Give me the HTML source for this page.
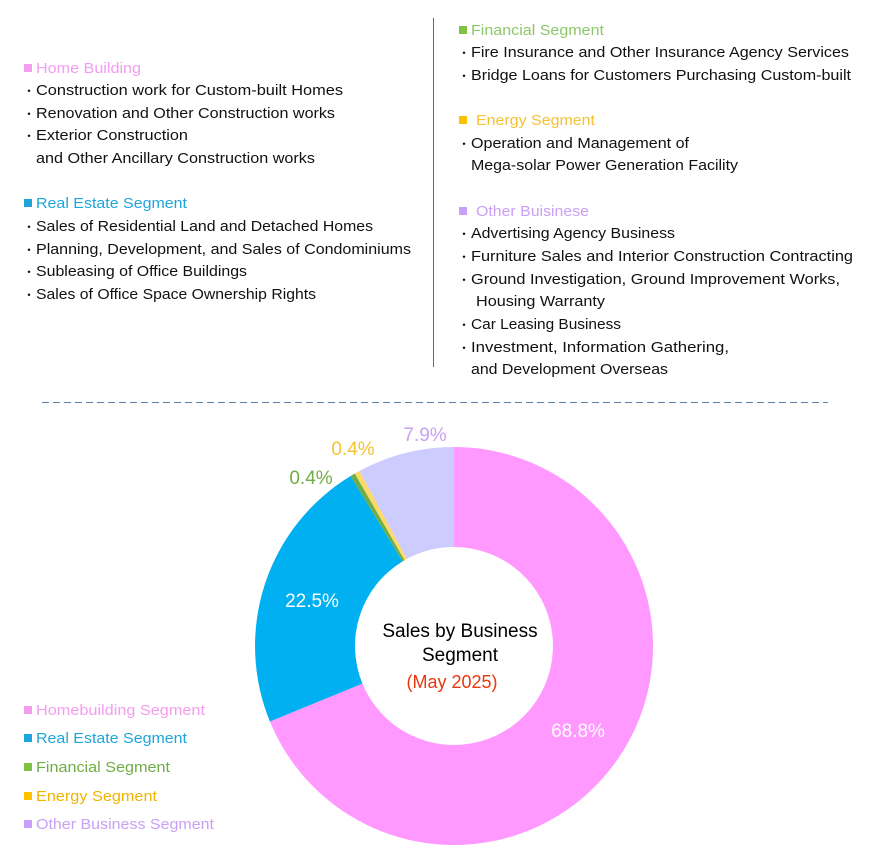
<!DOCTYPE html>
<html><head><meta charset="utf-8"><style>
html,body{margin:0;padding:0;background:#fff;}
svg{display:block;}
text{font-family:"Liberation Sans","Noto Sans CJK JP",sans-serif;font-size:15px;fill:#111;}
.b{font-size:12px;}
</style></head><body>
<svg width="869" height="866" viewBox="0 0 869 866" xmlns="http://www.w3.org/2000/svg">
<!-- left column -->
<rect x="24" y="64" width="8" height="8" fill="#F49CF0"/>
<text x="36" y="73" fill="#F49CF0" style="fill:#F49CF0" textLength="105" lengthAdjust="spacingAndGlyphs">Home Building</text>
<text class="b" x="23" y="95">・</text><text x="36" y="95" textLength="307" lengthAdjust="spacingAndGlyphs">Construction work for Custom-built Homes</text>
<text class="b" x="23" y="118">・</text><text x="36" y="118" textLength="299" lengthAdjust="spacingAndGlyphs">Renovation and Other Construction works</text>
<text class="b" x="23" y="140">・</text><text x="36" y="140" textLength="152" lengthAdjust="spacingAndGlyphs">Exterior Construction</text>
<text x="36" y="163" textLength="279" lengthAdjust="spacingAndGlyphs">and Other Ancillary Construction works</text>

<rect x="24" y="199" width="8" height="8" fill="#1EA6DC"/>
<text x="36" y="208" style="fill:#1EA6DC" textLength="151" lengthAdjust="spacingAndGlyphs">Real Estate Segment</text>
<text class="b" x="23" y="231">・</text><text x="36" y="231" textLength="337" lengthAdjust="spacingAndGlyphs">Sales of Residential Land and Detached Homes</text>
<text class="b" x="23" y="254">・</text><text x="36" y="254" textLength="375" lengthAdjust="spacingAndGlyphs">Planning, Development, and Sales of Condominiums</text>
<text class="b" x="23" y="276">・</text><text x="36" y="276" textLength="211" lengthAdjust="spacingAndGlyphs">Subleasing of Office Buildings</text>
<text class="b" x="23" y="299">・</text><text x="36" y="299" textLength="280" lengthAdjust="spacingAndGlyphs">Sales of Office Space Ownership Rights</text>

<line x1="433.5" y1="18" x2="433.5" y2="367" stroke="#41719C" stroke-width="1"/>

<!-- right column -->
<rect x="459" y="26" width="8" height="8" fill="#7FC241"/>
<text x="471" y="35" style="fill:#8CC96A" textLength="133" lengthAdjust="spacingAndGlyphs">Financial Segment</text>
<text class="b" x="458" y="57">・</text><text x="471" y="57" textLength="378" lengthAdjust="spacingAndGlyphs">Fire Insurance and Other Insurance Agency Services</text>
<text class="b" x="458" y="80">・</text><text x="471" y="80" textLength="380" lengthAdjust="spacingAndGlyphs">Bridge Loans for Customers Purchasing Custom-built</text>

<rect x="459" y="116" width="8" height="8" fill="#FFC000"/>
<text x="476" y="125" style="fill:#F5C232" textLength="119" lengthAdjust="spacingAndGlyphs">Energy Segment</text>
<text class="b" x="458" y="148">・</text><text x="471" y="148" textLength="218" lengthAdjust="spacingAndGlyphs">Operation and Management of</text>
<text x="471" y="170" textLength="267" lengthAdjust="spacingAndGlyphs">Mega-solar Power Generation Facility</text>

<rect x="459" y="207" width="8" height="8" fill="#C9A0F5"/>
<text x="476" y="216" style="fill:#C9A0F5" textLength="113" lengthAdjust="spacingAndGlyphs">Other Buisinese</text>
<text class="b" x="458" y="238">・</text><text x="471" y="238" textLength="204" lengthAdjust="spacingAndGlyphs">Advertising Agency Business</text>
<text class="b" x="458" y="261">・</text><text x="471" y="261" textLength="382" lengthAdjust="spacingAndGlyphs">Furniture Sales and Interior Construction Contracting</text>
<text class="b" x="458" y="284">・</text><text x="471" y="284" textLength="369" lengthAdjust="spacingAndGlyphs">Ground Investigation, Ground Improvement Works,</text>
<text x="476" y="306" textLength="129" lengthAdjust="spacingAndGlyphs">Housing Warranty</text>
<text class="b" x="458" y="329">・</text><text x="471" y="329" textLength="150" lengthAdjust="spacingAndGlyphs">Car Leasing Business</text>
<text class="b" x="458" y="352">・</text><text x="471" y="352" textLength="258" lengthAdjust="spacingAndGlyphs">Investment, Information Gathering,</text>
<text x="471" y="374" textLength="197" lengthAdjust="spacingAndGlyphs">and Development Overseas</text>

<line x1="42" y1="402.5" x2="828" y2="402.5" stroke="#5B7FA6" stroke-width="1" stroke-dasharray="7,4"/>

<!-- donut -->
<path d="M454,447 A199,199 0 1 1 269.9,721.5 L362.4,683.6 A99,99 0 1 0 454,547 Z" fill="#FF99FF"/>
<path d="M269.9,721.5 A199,199 0 0 1 350.6,476 L402.6,561.4 A99,99 0 0 0 362.4,683.6 Z" fill="#00B0F0"/>
<path d="M350.6,476 A199,199 0 0 1 354.8,473.5 L404.6,560.2 A99,99 0 0 0 402.6,561.4 Z" fill="#70AD47"/>
<path d="M354.8,473.5 A199,199 0 0 1 359.4,471 L406.9,558.9 A99,99 0 0 0 404.6,560.2 Z" fill="#FFD966"/>
<path d="M359.4,471 A199,199 0 0 1 454,447 L454,547 A99,99 0 0 0 406.9,558.9 Z" fill="#CCCCFF"/>

<text x="425" y="441" text-anchor="middle" style="font-size:19px;fill:#C9A0F5">7.9%</text>
<text x="353" y="455" text-anchor="middle" style="font-size:19px;fill:#F5C232">0.4%</text>
<text x="311" y="484" text-anchor="middle" style="font-size:19px;fill:#70AD47">0.4%</text>
<text x="312" y="607" text-anchor="middle" style="font-size:19px;fill:#fff">22.5%</text>
<text x="578" y="737" text-anchor="middle" style="font-size:19px;fill:#fff">68.8%</text>

<text x="460" y="637" text-anchor="middle" style="font-size:19px;fill:#000">Sales by Business</text>
<text x="460" y="661" text-anchor="middle" style="font-size:19px;fill:#000">Segment</text>
<text x="452" y="688" text-anchor="middle" style="font-size:18px;fill:#E8380D">(May 2025)</text>

<!-- legend -->
<rect x="24" y="706" width="8" height="8" fill="#F49CF0"/>
<text x="36" y="715" style="fill:#F49CF0" textLength="169" lengthAdjust="spacingAndGlyphs">Homebuilding Segment</text>
<rect x="24" y="734" width="8" height="8" fill="#1EA6DC"/>
<text x="36" y="743" style="fill:#1EA6DC" textLength="151" lengthAdjust="spacingAndGlyphs">Real Estate Segment</text>
<rect x="24" y="763" width="8" height="8" fill="#7FC241"/>
<text x="36" y="772" style="fill:#70AD47" textLength="134" lengthAdjust="spacingAndGlyphs">Financial Segment</text>
<rect x="24" y="792" width="8" height="8" fill="#FFC000"/>
<text x="36" y="801" style="fill:#F0B400" textLength="121" lengthAdjust="spacingAndGlyphs">Energy Segment</text>
<rect x="24" y="820" width="8" height="8" fill="#C9A0F5"/>
<text x="36" y="829" style="fill:#C9A0F5" textLength="178" lengthAdjust="spacingAndGlyphs">Other Business Segment</text>
</svg>
</body></html>
